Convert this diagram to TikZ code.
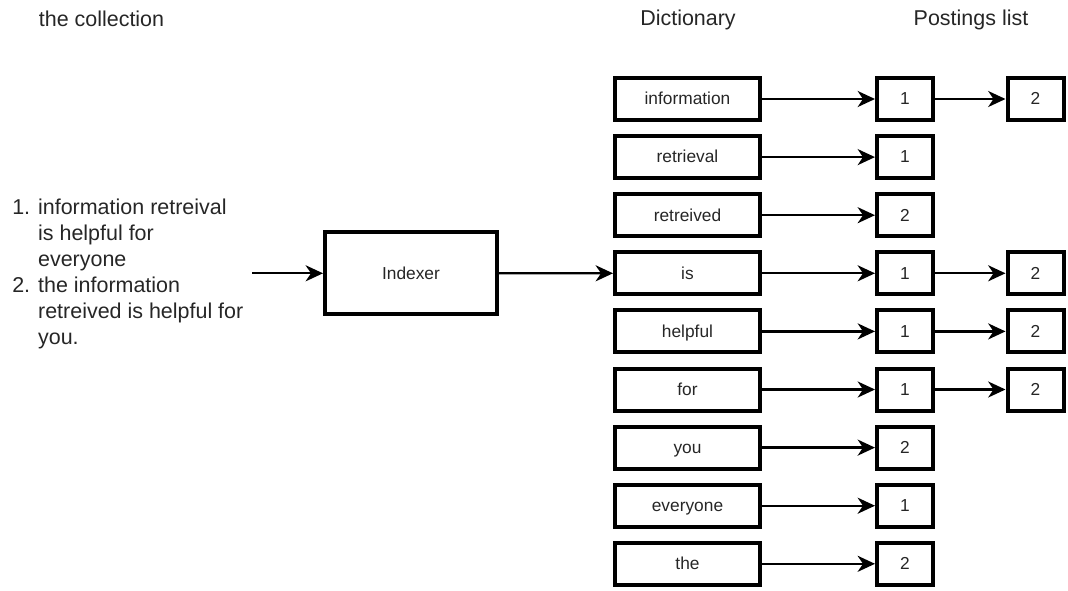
\documentclass[tikz,border=0pt]{standalone}
\usepackage{fontspec}
\setmainfont{Liberation Sans}
\usetikzlibrary{arrows.meta}
\begin{document}
\begin{tikzpicture}[x=0.75pt,y=-0.75pt,
  txt/.style={text=black!85, font=\fontsize{13}{15}\selectfont, text height=0.88em, text depth=0pt},
  title/.style={text=black!85, font=\fontsize{16.1}{19}\selectfont, inner sep=0pt},
  dictbox/.style={txt, draw=black, line width=3pt, minimum width=108.75pt, minimum height=31.5pt, inner sep=0pt},
  postbox/.style={txt, draw=black, line width=3pt, minimum width=42pt, minimum height=31.5pt, inner sep=0pt},
  idxbox/.style={txt, draw=black, line width=3pt, minimum width=129pt, minimum height=61.5pt, inner sep=0pt},
  conn/.style={line width=1.7pt, -{Stealth[length=13pt, width=12pt, inset=4pt]}}
]
\useasboundingbox (0,0) rectangle (1068,590);

% titles
\node[title] (tcoll) at (101.5,19) {the collection};
\node[title] (tdict) at (688,20) {Dictionary};
\node[title] (tpost) at (971,20) {Postings list};

% collection text
\node[title, anchor=west, inner sep=0pt, font=\fontsize{16.1}{19.5}\selectfont] (coll) at (12,274) {%
  \begin{tabular}{@{}l@{ }l@{}}
  1. & information retreival\\
     & is helpful for\\
     & everyone\\
  2. & the information\\
     & retreived is helpful for\\
     & you.
  \end{tabular}};

\coordinate (cin) at (252,273.3);
\node[idxbox] (idx) at (411,273.3) {Indexer};
\draw[conn] (cin) -- (idx);

% dictionary
\foreach \w [count=\i] in {information,retrieval,retreived,is,helpful,for,you,everyone,the}{
  \node[dictbox] (d\i) at (687.5,{99+(\i-1)*58.1}) {\w};
}

% first postings
\foreach \n [count=\i] in {1,1,2,1,1,1,2,1,2}{
  \node[postbox] (p\i) at (905,{99+(\i-1)*58.1}) {\n};
  \draw[conn] (d\i) -- (p\i);
}

% second postings
\foreach \i in {1,4,5,6}{
  \node[postbox] (q\i) at (1035.5,{99+(\i-1)*58.1}) {2};
  \draw[conn] (p\i) -- (q\i);
}

\draw[conn] (idx) -- (d4);
\end{tikzpicture}
\end{document}
